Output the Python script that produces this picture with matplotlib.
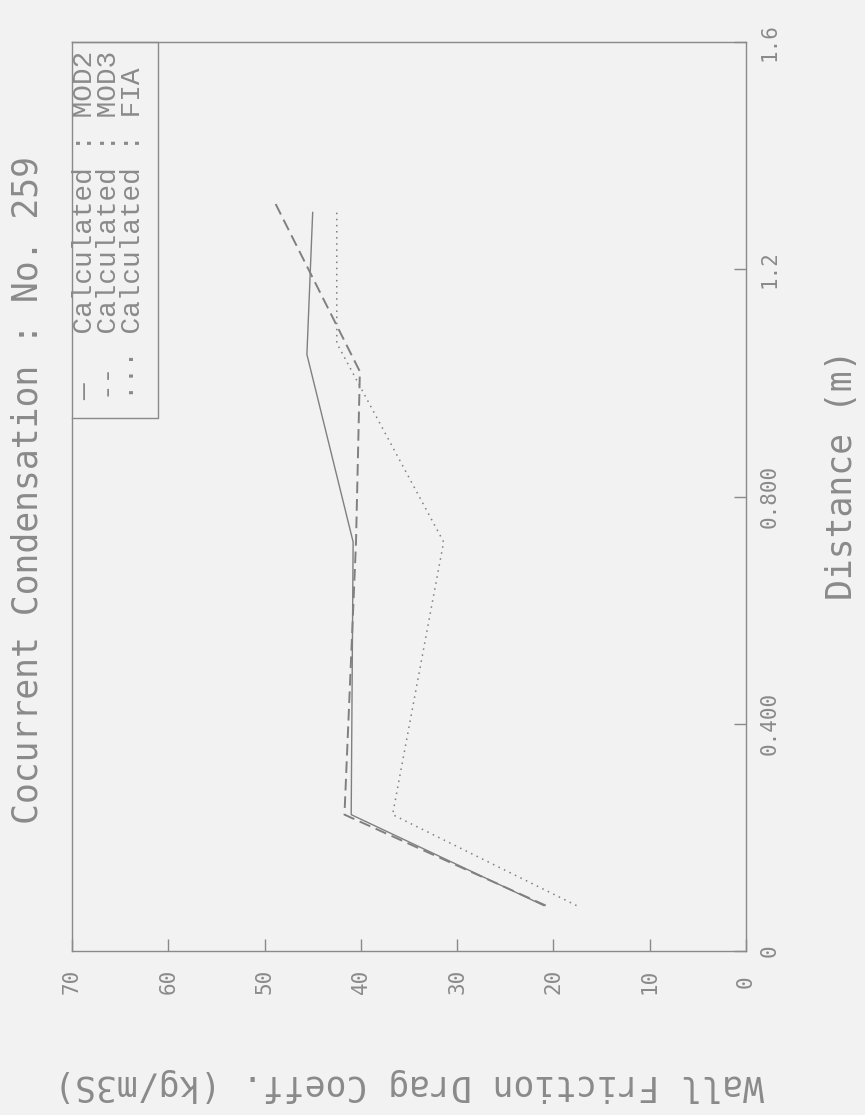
import matplotlib.pyplot as plt

# Wall friction drag coefficient (kg/m3S) against distance (m)
dist_mod2 = [0.08, 0.24, 0.72, 1.05, 1.30]
coef_mod2 = [21.0, 41.0, 40.8, 45.6, 45.0]
dist_mod3 = [0.08, 0.24, 0.72, 1.02, 1.32]
coef_mod3 = [20.8, 41.7, 40.5, 40.1, 49.0]
dist_fia = [0.08, 0.24, 0.72, 1.07, 1.30]
coef_fia = [17.6, 36.7, 31.4, 42.5, 42.5]

coef_ticks = [0, 10, 20, 30, 40, 50, 60, 70]
dist_ticks = [0, 0.4, 0.8, 1.2, 1.6]
dist_labels = ['0', '0.400', '0.800', '1.2', '1.6']
legend_lines = ['—   Calculated : MOD2',
                '--  Calculated : MOD3',
                '··· Calculated : FIA']

bg = '#f2f2f2'
ink = '#8a8a8a'
line_ink = '#808080'
plt.rcParams['font.family'] = ['DejaVu Sans Mono']

# page is turned on its side: coefficient runs right-to-left, distance upward
fig = plt.figure(figsize=(8.65, 11.15), dpi=100, facecolor=bg)
ax = fig.add_axes([0.0832, 0.1471, 0.7792, 0.8152])
ax.set_facecolor(bg)

ax.plot(coef_mod2, dist_mod2, color=line_ink, lw=1.0, ls='-')
ax.plot(coef_mod3, dist_mod3, color=line_ink, lw=1.4, ls=(0, (6, 3)))
ax.plot(coef_fia, dist_fia, color=line_ink, lw=1.1, ls=(0, (1, 3)))

ax.set_xlim(70, 0)
ax.set_ylim(0, 1.6)
for s in ax.spines.values():
    s.set_color(ink)
    s.set_linewidth(1.0)

ax.set_xticks(coef_ticks)
ax.set_xticklabels([str(v) for v in coef_ticks], rotation=90, va='center')
ax.tick_params(axis='x', direction='in', length=9, width=1, color=ink,
               labelcolor=ink, labelsize=15, pad=22)

ax.yaxis.tick_right()
ax.set_yticks(dist_ticks)
ax.set_yticklabels(dist_labels, rotation=90, va='center', ha='center')
ax.tick_params(axis='y', direction='in', length=9, width=1, color=ink,
               labelcolor=ink, labelsize=15, pad=17)

# legend: one rotated text block inside a framed box at the top-left corner
ax.text(0.0, 0.606, '\n'.join(legend_lines), transform=ax.transAxes,
        rotation=90, rotation_mode='anchor', ha='left', va='top',
        multialignment='left', linespacing=0.9, color=ink, fontsize=20,
        family=['Liberation Mono', 'DejaVu Sans Mono'])
ax.plot([0, 0.128, 0.128, 0], [1, 1, 0.586, 0.586], transform=ax.transAxes,
        color=ink, lw=1.0, clip_on=False)

fig.text(28 / 865, 1 - 490 / 1115, 'Cocurrent Condensation : No. 259',
         rotation=90, ha='center', va='center', color=ink, fontsize=25)
fig.text(842 / 865, 1 - 475 / 1115, 'Distance (m)',
         rotation=90, ha='center', va='center', color=ink, fontsize=25)
fig.text(409 / 865, 1 - 1085 / 1115, 'Wall Friction Drag Coeff. (kg/m3S)',
         rotation=180, ha='center', va='center', color=ink, fontsize=25)

fig.savefig('out.png', dpi=100, facecolor=bg)
